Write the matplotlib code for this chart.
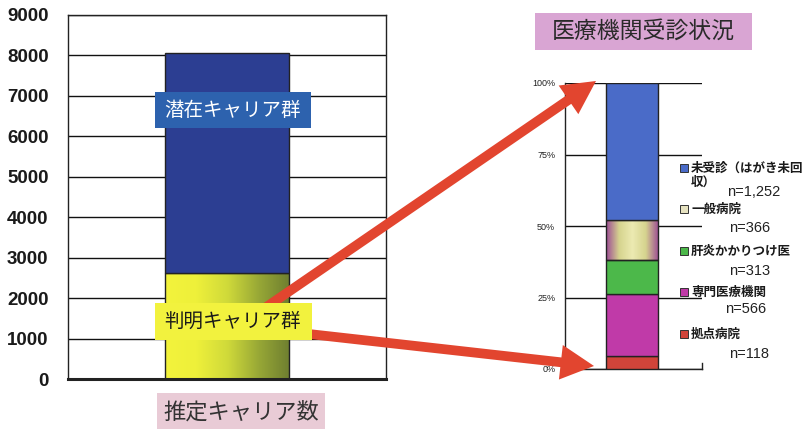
import numpy as np
import matplotlib
matplotlib.use("Agg")
import matplotlib.pyplot as plt
from matplotlib.patches import FancyArrowPatch, Rectangle
from matplotlib.colors import LinearSegmentedColormap

plt.rcParams['font.family'] = ['Noto Sans CJK JP', 'DejaVu Sans']

# 推定キャリア数 (left stacked bar, bottom to top)
carrier_groups = ['判明キャリア群', '潜在キャリア群']
carrier_counts = [2615, 5435]
left_ticks = list(range(0, 9001, 1000))

# 医療機関受診状況 (right 100% bar, bottom to top)
visit_labels = ['拠点病院', '専門医療機関', '肝炎かかりつけ医', '一般病院', '未受診（はがき未回\n収）']
visit_counts = [118, 566, 313, 366, 1252]
pct_ticks = [0, 25, 50, 75, 100]

W, H = 808, 429
fig = plt.figure(figsize=(W / 100, H / 100), dpi=100)
fig.patch.set_facecolor('white')


def fx(px):
    return px / W


def fy(py):
    return 1 - py / H


def gradient_fill(ax, rect, stops, zorder):
    """Fill a bar rectangle with a horizontal colour gradient."""
    cmap = LinearSegmentedColormap.from_list('g', stops)
    x0, y0 = rect.get_x(), rect.get_y()
    x1, y1 = x0 + rect.get_width(), y0 + rect.get_height()
    grad = np.linspace(0, 1, 256).reshape(1, -1)
    im = ax.imshow(grad, cmap=cmap, extent=(x0, x1, y0, y1), aspect='auto',
                   origin='lower', zorder=zorder, interpolation='bicubic')
    im.set_clip_path(rect)


# ---------------- left chart ----------------
ax1 = fig.add_axes([fx(68), fy(379), fx(386) - fx(68), fy(15) - fy(379)])
ax1.set_xlim(-0.5, 0.5)
ax1.set_ylim(0, 9000)
ax1.set_yticks(left_ticks)
ax1.set_xticks([])
ax1.yaxis.grid(True, color='#111111', lw=1.0)
ax1.set_axisbelow(True)
ax1.tick_params(axis='y', length=0, pad=14)
for lbl in ax1.get_yticklabels():
    lbl.set_fontfamily('Liberation Sans')
    lbl.set_fontweight('bold')
    lbl.set_fontsize(13.5)
    lbl.set_color('#1a1a1a')
for s in ax1.spines.values():
    s.set_color('#222222')
    s.set_linewidth(1.0)
ax1.spines['bottom'].set_linewidth(2.2)

bw1 = 0.39
known = ax1.bar(0, carrier_counts[0], width=bw1, facecolor='none',
                edgecolor='#222222', lw=1.0, zorder=3)[0]
latent = ax1.bar(0, carrier_counts[1], bottom=carrier_counts[0], width=bw1,
                 facecolor='#2c3e92', edgecolor='#222222', lw=1.0, zorder=3)[0]
gradient_fill(ax1, known, ['#f3f33c', '#eef03a', '#d0da3a', '#98a836', '#6e7e30'], 2)

# ---------------- right chart ----------------
ax2 = fig.add_axes([fx(565), fy(369), fx(702) - fx(565), fy(83) - fy(369)])
ax2.set_xlim(0, 1)
ax2.set_ylim(0, 100)
ax2.set_yticks(pct_ticks)
ax2.set_yticklabels([f'{t}%' for t in pct_ticks])
ax2.set_xticks([])
ax2.yaxis.grid(True, color='#111111', lw=1.0)
ax2.set_axisbelow(True)
ax2.tick_params(axis='y', length=0, pad=7)
for lbl in ax2.get_yticklabels():
    lbl.set_fontfamily('Liberation Sans')
    lbl.set_fontsize(6.5)
    lbl.set_color('#222222')
ax2.spines['top'].set_visible(False)
ax2.spines['right'].set_bounds(0, 2)
for s in ax2.spines.values():
    s.set_color('#222222')
    s.set_linewidth(1.0)

total = sum(visit_counts)
pcts = [100 * c / total for c in visit_counts]
bottoms = np.concatenate([[0], np.cumsum(pcts)[:-1]])
visit_colors = ['#d0443a', '#c03aa8', '#4cb84a', 'none', '#4a6bc8']
rects = ax2.bar([0.49] * len(pcts), pcts, bottom=bottoms, width=0.38,
                color=visit_colors, edgecolor='#222222', lw=1.0, zorder=3)
gradient_fill(ax2, rects[3], ['#9c4a94', '#d6d48e', '#eceab2', '#d6d48e', '#9c4a94'], 2)

# ---------------- labels and boxes ----------------
def box(x0, y0, x1, y1, fc, z=5, ec='none', lw=0):
    fig.add_artist(Rectangle((fx(x0), fy(y1)), fx(x1) - fx(x0), fy(y0) - fy(y1),
                             transform=fig.transFigure, facecolor=fc,
                             edgecolor=ec, lw=lw, zorder=z))


box(155, 92, 311, 128, '#2d62ae')
fig.text(fx(233), fy(110), carrier_groups[1], color='white', fontsize=14,
         ha='center', va='center', zorder=6)

box(155, 303, 312, 340, '#f2f23e')
fig.text(fx(233), fy(321), carrier_groups[0], color='#1a1a1a', fontsize=14,
         ha='center', va='center', zorder=6)

box(157, 393, 325, 432, '#e9cbd6')
fig.text(fx(241), fy(412), '推定キャリア数', color='#333333', fontsize=16,
         ha='center', va='center', zorder=6)

box(535, 13, 752, 50, '#d9a5d3')
fig.text(fx(643), fy(31), '医療機関受診状況', color='#2a2a2a', fontsize=16.5,
         ha='center', va='center', zorder=6)

# legend (top to bottom): series index, label y, count y, count x
legend_rows = [
    (4, 168, 192, 727),
    (3, 209, 228, 729),
    (2, 251, 271, 729),
    (1, 292, 309, 725),
    (0, 334, 354, 729),
]
legend_colors = ['#d0443a', '#c03aa8', '#4cb84a', '#e6e2c0', '#4a6bc8']
for idx, y_lab, y_n, x_n in legend_rows:
    box(680, y_lab - 4, 688, y_lab + 4, legend_colors[idx], z=6,
        ec='#333333', lw=0.7)
    for k, line in enumerate(visit_labels[idx].split('\n')):
        fig.text(fx(691), fy(y_lab + 14 * k), line, fontsize=9, fontweight='bold',
                 color='#1a1a1a', ha='left', va='center', zorder=6)
    fig.text(fx(x_n), fy(y_n), f'n={visit_counts[idx]:,}', fontsize=10.5,
             color='#222222', ha='left', va='center', zorder=6,
             family=['Liberation Sans', 'DejaVu Sans'])

# ---------------- arrows ----------------
arrow_style = 'simple,head_width=2.5,head_length=2.4,tail_width=0.7'
for (xa, ya), (xb, yb) in [((262, 310), (596, 81)), ((300, 333), (594, 366))]:
    fig.add_artist(FancyArrowPatch((fx(xa), fy(ya)), (fx(xb), fy(yb)),
                                   transform=fig.transFigure, arrowstyle=arrow_style,
                                   mutation_scale=10, color='#e2452f', lw=0,
                                   shrinkA=0, shrinkB=0, zorder=4))

fig.savefig('out.png', dpi=100)
